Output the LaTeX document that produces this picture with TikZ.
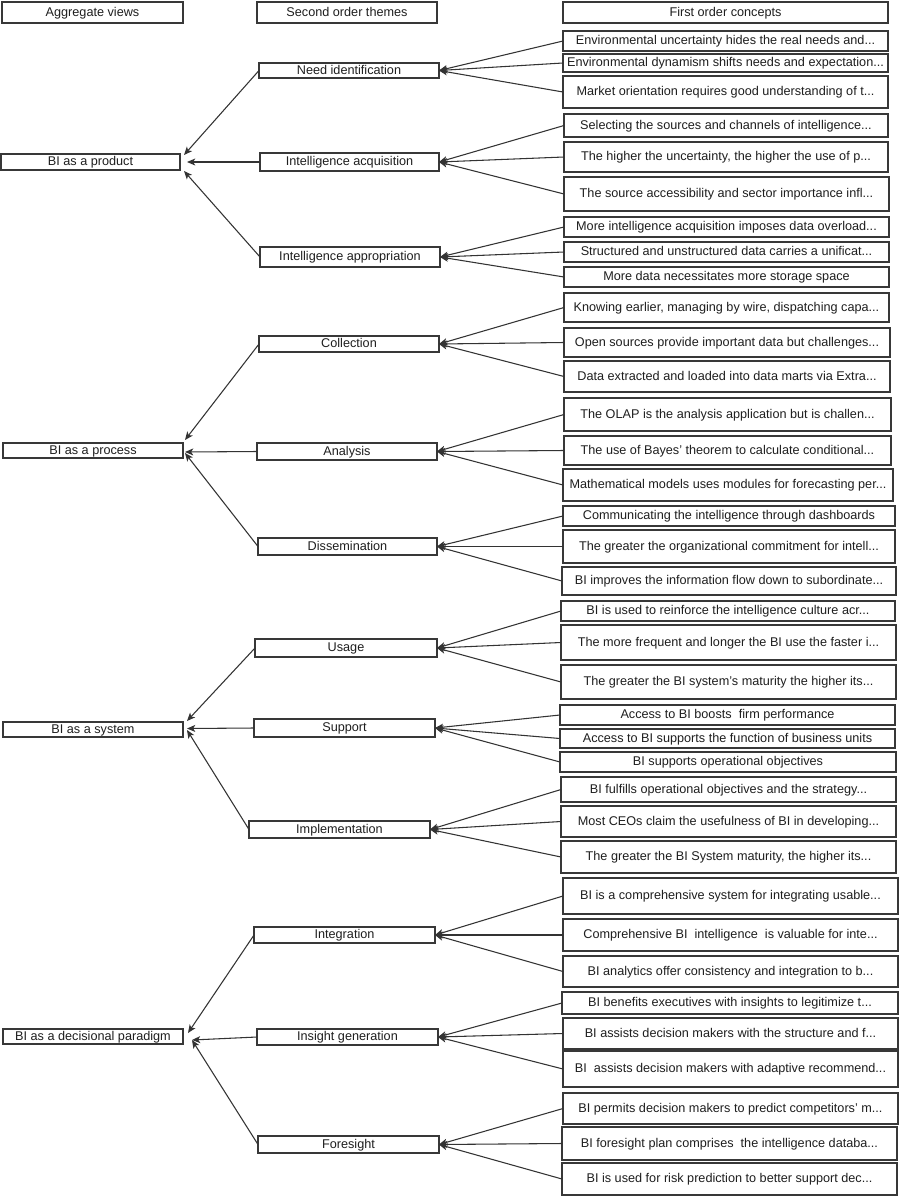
\documentclass[tikz,border=0pt]{standalone}
\usepackage{fontspec}
\setmainfont{Liberation Sans}
\usetikzlibrary{arrows.meta}
\tikzset{
  bx/.style={draw=black!78, line width=0.9pt, fill=white, inner sep=0pt, outer sep=0pt,
    text=black!88, font=\fontsize{9.5pt}{11pt}\selectfont, text height=7.7pt, text depth=1.9pt},
  arr/.style={draw=black!80, line width=0.8pt, -{Stealth[length=6.2pt,width=5.2pt,inset=1.6pt]}}
}
\newcommand{\bx}[6]{\node[bx, minimum width={(#4-#2)*0.75pt}, minimum height={(#5-#3)*0.75pt}] (#1) at ({(#2+#4)/2},{(#3+#5)/2}) {#6};}
\begin{document}
\begin{tikzpicture}[x=0.75pt,y=-0.75pt]
\useasboundingbox (0,0) rectangle (905,1200);
% headers
\bx{h1}{2}{2}{183}{23}{Aggregate views}
\bx{h2}{257}{2}{437}{23}{Second order themes}
\bx{h3}{563}{2}{888}{23}{First order concepts}
% aggregate views
\bx{a1}{1}{154}{180}{170}{BI as a product}
\bx{a2}{3}{443}{183}{458}{BI as a process}
\bx{a3}{3}{722}{183}{737}{BI as a system}
\bx{a4}{3}{1029}{183}{1044}{BI as a decisional paradigm}
% second order themes
\bx{s1}{259}{63}{439}{78}{Need identification}
\bx{s2}{260}{153}{439}{171}{Intelligence acquisition}
\bx{s3}{260}{247}{440}{267}{Intelligence appropriation}
\bx{s4}{259}{336}{439}{352}{Collection}
\bx{s5}{257}{443}{437}{460}{Analysis}
\bx{s6}{258}{538}{437}{555}{Dissemination}
\bx{s7}{255}{639}{437}{657}{Usage}
\bx{s8}{254}{719}{435}{737}{Support}
\bx{s9}{249}{821}{430}{838}{Implementation}
\bx{s10}{254}{927}{435}{943}{Integration}
\bx{s11}{257}{1029}{438}{1045}{Insight generation}
\bx{s12}{258}{1136}{439}{1153}{Foresight}
% first order concepts
\bx{c1}{563}{31}{888}{51}{Environmental uncertainty hides the real needs and...}
\bx{c2}{563}{54}{888}{72}{Environmental dynamism shifts needs and expectation...}
\bx{c3}{563}{76}{888}{108}{Market orientation requires good understanding of t...}
\bx{c4}{564}{114}{888}{137}{Selecting the sources and channels of intelligence...}
\bx{c5}{564}{142}{888}{172}{The higher the uncertainty, the higher the use of p...}
\bx{c6}{564}{177}{889}{211}{The source accessibility and sector importance infl...}
\bx{c7}{564}{217}{889}{237}{More intelligence acquisition imposes data overload...}
\bx{c8}{564}{242}{889}{262}{Structured and unstructured data carries a unificat...}
\bx{c9}{564}{267}{889}{287}{More data necessitates more storage space}
\bx{c10}{564}{293}{889}{322}{Knowing earlier, managing by wire, dispatching capa...}
\bx{c11}{564}{328}{890}{357}{Open sources provide important data but challenges...}
\bx{c12}{564}{361}{890}{392}{Data extracted and loaded into data marts via Extra...}
\bx{c13}{564}{398}{891}{431}{The OLAP is the analysis application but is challen...}
\bx{c14}{564}{436}{891}{465}{The use of Bayes' theorem to calculate conditional...}
\bx{c15}{563}{469}{893}{501}{Mathematical models uses modules for forecasting per...}
\bx{c16}{563}{506}{895}{526}{Communicating the intelligence through dashboards}
\bx{c17}{563}{530}{895}{563}{The greater the organizational commitment for intell...}
\bx{c18}{562}{567}{896}{595}{BI improves the information flow down to subordinate...}
\bx{c19}{561}{601}{895}{621}{BI is used to reinforce the intelligence culture acr...}
\bx{c20}{561}{625}{896}{660}{The more frequent and longer the BI use the faster i...}
\bx{c21}{561}{665}{896}{699}{The greater the BI system's maturity the higher its...}
\bx{c22}{560}{705}{895}{725}{Access to BI boosts\ \ firm performance}
\bx{c23}{560}{729}{895}{748}{Access to BI supports the function of business units}
\bx{c24}{560}{752}{896}{772}{BI supports operational objectives}
\bx{c25}{561}{777}{896}{802}{BI fulfills operational objectives and the strategy...}
\bx{c26}{561}{806}{896}{837}{Most CEOs claim the usefulness of BI in developing...}
\bx{c27}{561}{841}{896}{873}{The greater the BI System maturity, the higher its...}
\bx{c28}{563}{878}{898}{914}{BI is a comprehensive system for integrating usable...}
\bx{c29}{563}{919}{898}{951}{Comprehensive BI\ \ intelligence\ \ is valuable for inte...}
\bx{c30}{563}{956}{898}{987}{BI analytics offer consistency and integration to b...}
\bx{c31}{562}{992}{898}{1014}{BI benefits executives with insights to legitimize t...}
\bx{c32}{563}{1018}{898}{1049}{BI assists decision makers with the structure and f...}
\bx{c33}{563}{1051}{898}{1087}{BI\ \ assists decision makers with adaptive recommend...}
\bx{c34}{563}{1093}{898}{1124}{BI permits decision makers to predict competitors' m...}
\bx{c35}{562}{1127}{897}{1160}{BI foresight plan comprises\ \ the intelligence databa...}
\bx{c36}{562}{1163}{897}{1195}{BI is used for risk prediction to better support dec...}
% concept -> theme connectors
\foreach \s/\p/\q/\r in {s1/c1/c2/c3, s2/c4/c5/c6, s3/c7/c8/c9, s4/c10/c11/c12,
  s5/c13/c14/c15, s6/c16/c17/c18, s7/c19/c20/c21, s8/c22/c23/c24, s9/c25/c26/c27,
  s10/c28/c29/c30, s11/c31/c32/c33, s12/c34/c35/c36}{
  \draw[arr] (\p.west) -- (\s.east);
  \draw[arr] (\q.west) -- (\s.east);
  \draw[arr] (\r.west) -- (\s.east);
}
% theme -> aggregate connectors
\draw[arr] (s1.west) -- ([shift={(4,1)}]a1.north east);
\draw[arr] (s2.west) -- ([shift={(7,0)}]a1.east);
\draw[arr] (s3.west) -- ([shift={(4,1)}]a1.south east);
\draw[arr] (s4.west) -- ([shift={(2,-3)}]a2.north east);
\draw[arr] (s5.west) -- ([shift={(2,1.5)}]a2.east);
\draw[arr] (s6.west) -- ([shift={(2,2.5)}]a2.east);
\draw[arr] (s7.west) -- ([shift={(4,-1)}]a3.north east);
\draw[arr] (s8.west) -- ([shift={(4,-1)}]a3.east);
\draw[arr] (s9.west) -- ([shift={(4,0.5)}]a3.east);
\draw[arr] (s10.west) -- ([shift={(5,-3.5)}]a4.east);
\draw[arr] (s11.west) -- ([shift={(9,3.5)}]a4.east);
\draw[arr] (s12.west) -- ([shift={(9,3.5)}]a4.east);
\end{tikzpicture}
\end{document}
